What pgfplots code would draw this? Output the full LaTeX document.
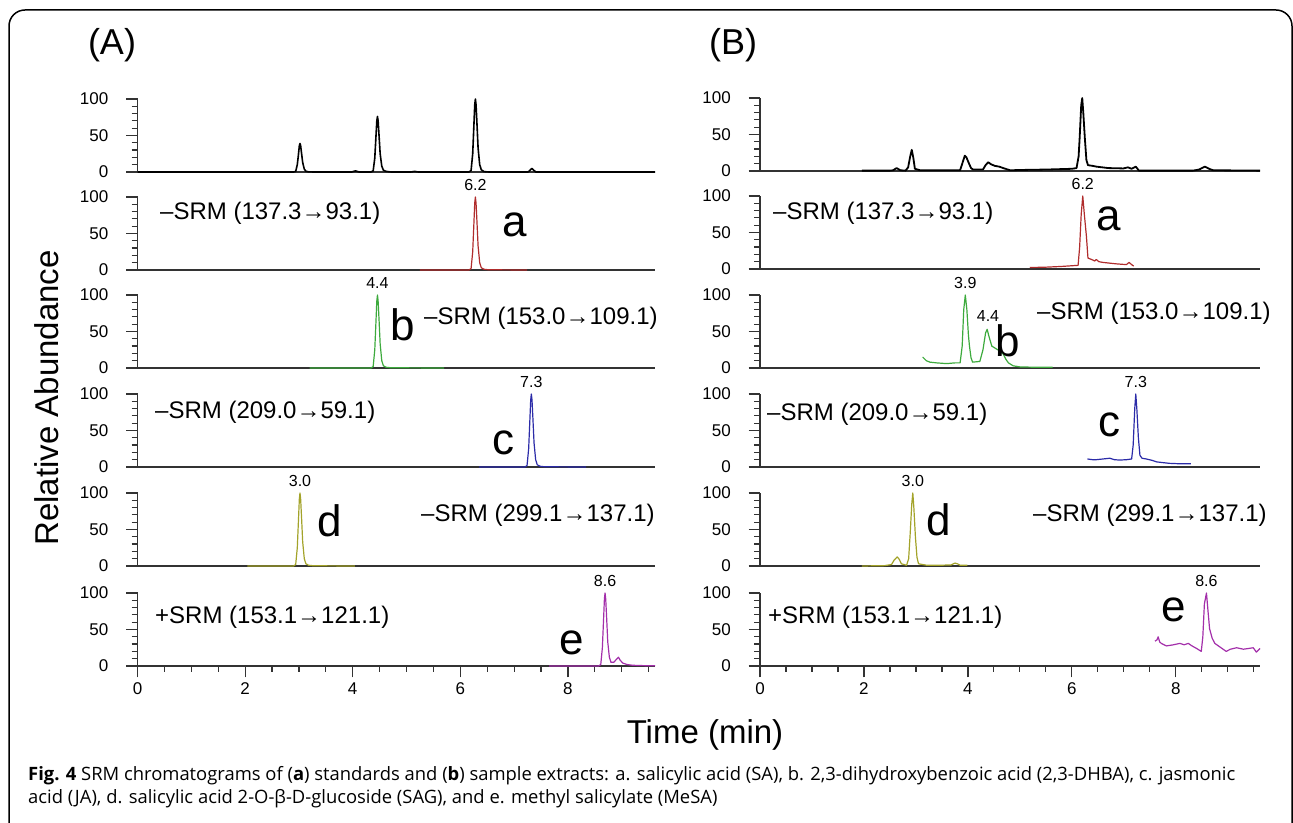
\documentclass[border=0pt]{standalone}
\usepackage{fontspec}
\setmainfont{Liberation Sans}
\newfontfamily\capfont{Open Sans}
\usepackage{pgfplots}
\pgfplotsset{compat=1.18}

\definecolor{axisgray}{HTML}{333333}
\definecolor{trRed}{HTML}{B02C2C}
\definecolor{trGreen}{HTML}{3DAA3D}
\definecolor{trBlue}{HTML}{2B2BA8}
\definecolor{trOlive}{HTML}{A3A32A}
\definecolor{trMag}{HTML}{A32FAA}

\newcommand\fs[1]{\fontsize{#1}{#1}\selectfont}

\tikzset{
  tr/.style={line width=1.2pt, line join=round},
  pk/.style={anchor=south, inner sep=0pt, yshift=6pt, font=\fs{16}},
}
\pgfplotsset{
  chrom/.style={
    scale only axis, height=73pt, ymin=0, ymax=100, xmin=0, xmax=9.62,
    axis x line*=bottom, axis y line*=left,
    axis line style={line width=1.4pt, color=axisgray},
    ytick={0,50,100}, minor ytick={10,20,30,40,60,70,80,90},
    xtick=\empty,
    tick align=outside, major tick length=11.5pt, minor tick length=6pt,
    every tick/.style={line width=1.2pt, axisgray},
    yticklabel style={font=\fs{17}, inner sep=1.5pt, xshift=-16pt},
    /pgf/number format/assume math mode=true,
    clip=false, anchor=south west,
  },
  leftcol/.style={chrom, width=517.6pt},
  rightcol/.style={chrom, width=500pt},
  bottomx/.style={xtick={0,2,4,6,8}, minor xtick={0.5,1,...,9.5},
    xticklabel style={font=\fs{17}, inner sep=5pt}},
}

\begin{document}
\begin{tikzpicture}[x=1pt,y=1pt]
% ---------- column A ----------
\begin{axis}[leftcol, at={(137.5pt,650pt)}]
\addplot[tr, black, line width=1.6pt] coordinates {(0,0) (2.90,0) (2.94,0.8) (2.97,10) (2.99,23) (3.008,36) (3.02,39) (3.032,36) (3.05,25) (3.07,13) (3.10,4) (3.13,1) (3.18,0.2) (3.27,0) (3.98,0) (4.05,1.5) (4.12,0) (4.34,0) (4.38,1.5) (4.41,19) (4.43,46) (4.448,70) (4.46,76) (4.472,70) (4.49,49) (4.51,25) (4.54,8) (4.57,2.5) (4.62,0.8) (4.71,0) (5.08,0) (5.15,0.8) (5.22,0) (6.16,0) (6.20,2) (6.23,25) (6.25,60) (6.268,92) (6.28,100) (6.292,92) (6.31,65) (6.33,33) (6.36,10) (6.39,3) (6.44,0.5) (6.53,0) (7.26,0) (7.33,5) (7.40,0) (9.62,0)};
\end{axis}
\begin{axis}[leftcol, at={(137.5pt,552pt)}]
\addplot[tr, trRed] coordinates {(5.25,0) (6.16,0) (6.20,2) (6.23,25) (6.25,60) (6.268,92) (6.28,100) (6.292,92) (6.31,65) (6.33,33) (6.36,10) (6.39,3) (6.44,1) (6.53,0.3) (7.24,0)};
\node[pk] at (axis cs:6.28,100) {6.2};
\end{axis}
\begin{axis}[leftcol, at={(137.5pt,454pt)}]
\addplot[tr, trGreen] coordinates {(3.20,0) (4.34,0) (4.38,2) (4.41,25) (4.43,60) (4.448,92) (4.46,100) (4.472,92) (4.49,65) (4.51,33) (4.54,10) (4.57,3) (4.62,1) (4.71,0.3) (5.70,0)};
\node[pk] at (axis cs:4.46,100) {4.4};
\end{axis}
\begin{axis}[leftcol, at={(137.5pt,355pt)}]
\addplot[tr, trBlue] coordinates {(6.35,0) (7.20,0) (7.24,2) (7.27,25) (7.29,60) (7.308,92) (7.32,100) (7.332,92) (7.35,65) (7.37,33) (7.40,10) (7.43,3) (7.48,1) (7.57,0.3) (8.34,0)};
\node[pk] at (axis cs:7.32,100) {7.3};
\end{axis}
\begin{axis}[leftcol, at={(137.5pt,256pt)}]
\addplot[tr, trOlive] coordinates {(2.04,0) (2.90,0) (2.94,2) (2.97,25) (2.99,60) (3.008,92) (3.02,100) (3.032,92) (3.05,65) (3.07,33) (3.10,10) (3.13,3) (3.18,1) (3.27,0.3) (4.04,0)};
\node[pk] at (axis cs:3.02,100) {3.0};
\end{axis}
\begin{axis}[leftcol, bottomx, at={(137.5pt,156pt)}]
\addplot[tr, trMag] coordinates {(7.65,0) (8.57,0) (8.61,2) (8.64,25) (8.66,60) (8.678,92) (8.69,100) (8.702,92) (8.72,65) (8.74,33) (8.77,12) (8.80,5) (8.85,5) (8.90,9) (8.94,12) (8.97,8) (9.02,4) (9.10,2) (9.20,1) (9.40,0.5) (9.62,0.3)};
\node[pk] at (axis cs:8.69,100) {8.6};
\end{axis}
% ---------- column B ----------
\begin{axis}[rightcol, at={(760pt,651pt)}]
\addplot[tr, black, line width=1.8pt] coordinates {(1.96,0.5) (2.50,0.5) (2.56,1) (2.63,4) (2.70,1) (2.80,0.5) (2.85,5) (2.89,20) (2.92,29) (2.95,18) (2.98,3) (3.08,1) (3.85,1) (3.90,12) (3.94,21) (3.97,19) (4.01,12) (4.06,4) (4.10,2) (4.29,2) (4.34,8) (4.39,12) (4.45,9) (4.52,7) (4.60,6) (4.68,4) (4.81,1) (5.10,1.5) (5.51,2) (6.00,3) (6.09,4) (6.13,20) (6.15,45) (6.18,90) (6.20,100) (6.22,80) (6.25,45) (6.28,15) (6.31,8) (6.40,7) (6.47,6) (6.70,4) (6.99,3.5) (7.08,5) (7.15,3) (7.23,6) (7.29,0.5) (8.33,0.5) (8.45,2) (8.56,6) (8.64,3) (8.72,1) (9.62,0.5)};
\end{axis}
\begin{axis}[rightcol, at={(760pt,553pt)}]
\addplot[tr, trRed] coordinates {(5.19,2) (5.50,2.5) (5.80,3.5) (6.12,5) (6.15,30) (6.18,75) (6.21,100) (6.24,75) (6.28,45) (6.31,15) (6.38,13) (6.44,11) (6.47,13) (6.52,10) (6.60,9) (6.86,7) (7.05,6) (7.10,9) (7.15,6) (7.19,4)};
\node[pk] at (axis cs:6.21,100) {6.2};
\end{axis}
\begin{axis}[rightcol, at={(760pt,454pt)}]
\addplot[tr, trGreen] coordinates {(3.13,15) (3.20,10) (3.27,8) (3.40,7) (3.59,6) (3.75,7) (3.85,7) (3.89,30) (3.92,80) (3.95,100) (3.98,80) (4.01,45) (4.03,30) (4.06,14) (4.09,8) (4.23,9) (4.29,25) (4.34,48) (4.37,53) (4.41,42) (4.46,30) (4.55,26) (4.62,23) (4.68,19) (4.73,12) (4.78,7) (4.87,3) (5.00,1.5) (5.30,1) (5.63,1)};
\node[pk] at (axis cs:3.95,100) {3.9};
\end{axis}
\begin{axis}[rightcol, at={(760pt,355pt)}]
\addplot[tr, trBlue] coordinates {(6.30,11) (6.40,10) (6.47,10) (6.60,11) (6.73,12) (6.82,10) (6.92,9.5) (7.05,10) (7.15,11) (7.18,30) (7.21,80) (7.23,100) (7.25,80) (7.28,40) (7.31,16) (7.35,12) (7.43,11) (7.55,9) (7.63,7) (7.75,6) (7.88,5) (8.05,4.5) (8.29,4.5)};
\node[pk] at (axis cs:7.23,100) {7.3};
\end{axis}
\begin{axis}[rightcol, at={(760pt,256pt)}]
\addplot[tr, trOlive] coordinates {(1.96,0) (2.40,0.5) (2.53,2) (2.58,8) (2.64,12.5) (2.68,9) (2.72,3) (2.82,1) (2.86,10) (2.89,45) (2.92,85) (2.94,100) (2.96,80) (2.99,40) (3.02,12) (3.05,3) (3.21,1) (3.46,1) (3.68,1.5) (3.75,4) (3.80,3) (3.85,1) (3.99,1)};
\node[pk] at (axis cs:2.94,100) {3.0};
\end{axis}
\begin{axis}[rightcol, bottomx, at={(760pt,156pt)}]
\addplot[tr, trMag] coordinates {(7.60,34) (7.64,36) (7.66,40) (7.69,33) (7.72,31) (7.82,27.5) (7.95,29) (8.08,31) (8.16,29) (8.24,31) (8.30,28) (8.40,24) (8.49,20) (8.52,40) (8.55,85) (8.59,100) (8.62,75) (8.65,51) (8.70,38) (8.75,31) (8.85,26) (8.97,20) (9.05,23) (9.17,25) (9.30,23) (9.40,24) (9.49,25) (9.55,19) (9.62,24)};
\node[pk] at (axis cs:8.59,100) {8.6};
\end{axis}
% ---------- texts ----------
\node[font=\fs{36}] at (112pt,777pt) {(A)};
\node[font=\fs{36}] at (733pt,777pt) {(B)};
\begin{scope}[every node/.style={font=\fs{24}, inner sep=0pt}]
\node[anchor=west] at (160pt,609pt) {–SRM (137.3→93.1)};
\node[anchor=west] at (424pt,504pt) {–SRM (153.0→109.1)};
\node[anchor=west] at (155pt,410pt) {–SRM (209.0→59.1)};
\node[anchor=west] at (421pt,307pt) {–SRM (299.1→137.1)};
\node[anchor=west] at (155pt,205pt) {+SRM (153.1→121.1)};
\node[anchor=west] at (773pt,609pt) {–SRM (137.3→93.1)};
\node[anchor=west] at (1037pt,509pt) {–SRM (153.0→109.1)};
\node[anchor=west] at (767pt,408pt) {–SRM (209.0→59.1)};
\node[anchor=west] at (1033pt,307pt) {–SRM (299.1→137.1)};
\node[anchor=west] at (768pt,205pt) {+SRM (153.1→121.1)};
\end{scope}
\node[font=\fs{16}, inner sep=0pt] at (988pt,506pt) {4.4};
\begin{scope}[every node/.style={font=\fs{44}, inner sep=0pt}]
\node at (515pt,597pt) {a};
\node at (403pt,497pt) {b};
\node at (503pt,379pt) {c};
\node at (330pt,301pt) {d};
\node at (572pt,179pt) {e};
\node at (1109pt,603pt) {a};
\node at (1008pt,481pt) {b};
\node at (1109pt,397pt) {c};
\node at (939pt,302pt) {d};
\node at (1174pt,212pt) {e};
\end{scope}
\node[font=\fs{33}, rotate=90] at (47pt,424pt) {Relative Abundance};
\node[font=\fs{33}] at (705pt,87pt) {Time (min)};
\node[anchor=base west, inner sep=0pt, align=left, font=\capfont\fontsize{18.4}{23}\selectfont] at (28pt,19pt)
  {\textbf{Fig. 4} SRM chromatograms of (\textbf{a}) standards and (\textbf{b}) sample extracts: a. salicylic acid (SA), b. 2,3-dihydroxybenzoic acid (2,3-DHBA), c. jasmonic\\
   acid (JA), d. salicylic acid 2-O-β-D-glucoside (SAG), and e. methyl salicylate (MeSA)};
\draw[line width=1.5pt, rounded corners=16pt] (9pt,-20pt) -- (9pt,812pt) -- (1292pt,812pt) -- (1292pt,-20pt);
\pgfresetboundingbox
\path[use as bounding box] (0pt,0pt) rectangle (1293pt,822pt);
\end{tikzpicture}
\end{document}
